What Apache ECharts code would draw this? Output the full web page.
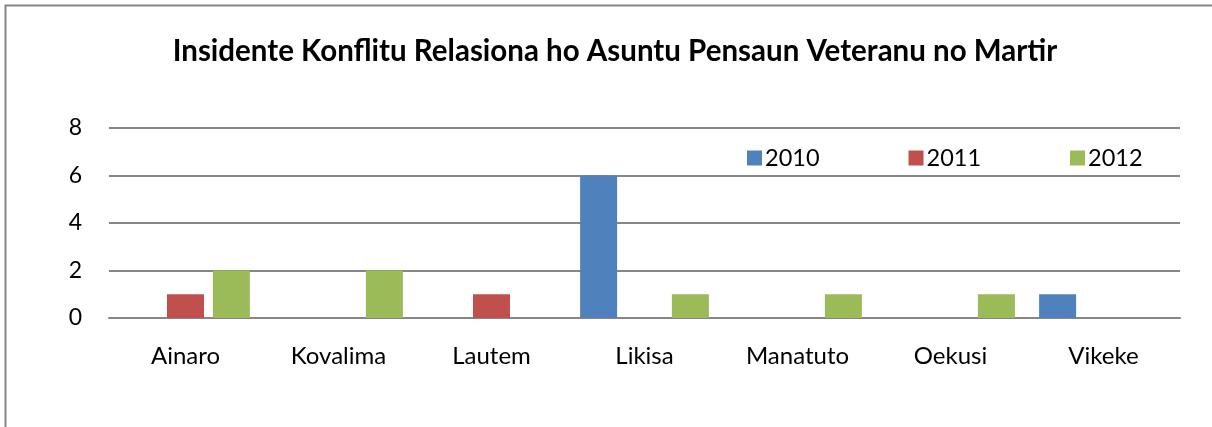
<!DOCTYPE html>
<html>
<head>
<meta charset="utf-8">
<script src="https://cdn.jsdelivr.net/npm/echarts@6/dist/echarts.min.js"></script>
<style>html,body{margin:0;padding:0;background:#fff}#c{width:1212px;height:427px}</style>
</head>
<body>
<div id="c"></div>
<script>
const titleText = 'Insidente Konflitu Relasiona ho Asuntu Pensaun Veteranu no Martir';
const categories = ['Ainaro', 'Kovalima', 'Lautem', 'Likisa', 'Manatuto', 'Oekusi', 'Vikeke'];
const seriesNames = ['2010', '2011', '2012'];
const values2010 = [0, 0, 0, 6, 0, 0, 1];
const values2011 = [1, 0, 1, 0, 0, 0, 0];
const values2012 = [2, 2, 0, 1, 1, 1, 0];
const yTicks = [0, 2, 4, 6, 8];
const colors = ['#4F81BD', '#C0504D', '#9BBB59'];

const font = 'Lato, Carlito, Calibri, sans-serif';
const chart = echarts.init(document.getElementById('c'), null, {renderer: 'canvas'});
const allVals = [values2010, values2011, values2012];
chart.setOption({
  animation: false,
  graphic: [{
    type: 'rect', shape: {x: 5.5, y: 5.5, width: 1260, height: 480},
    style: {fill: null, stroke: '#868686', lineWidth: 2}, silent: true
  }],
  title: {
    text: titleText, left: 610, top: 31, textAlign: 'center',
    textStyle: {fontFamily: font, fontSize: 29.5, fontWeight: 'bold', color: '#000'}
  },
  legend: {
    data: seriesNames, left: 742, top: 141, itemWidth: 15, itemHeight: 15, itemGap: 89,
    icon: 'rect',
    textStyle: {fontFamily: font, fontSize: 23.5, color: '#000', padding: [0, 0, 0, -2]}
  },
  grid: {left: 109, right: 32, top: 128, bottom: 109, containLabel: false},
  xAxis: {
    type: 'category', data: categories,
    axisLine: {show: true, lineStyle: {color: '#868686', width: 2}},
    axisTick: {show: false},
    axisLabel: {fontFamily: font, fontSize: 24, color: '#000', margin: 26}
  },
  yAxis: {
    type: 'value', min: yTicks[0], max: yTicks[yTicks.length - 1], interval: 2,
    axisLine: {show: false}, axisTick: {show: false},
    axisLabel: {fontFamily: font, fontSize: 23, color: '#000', margin: 27},
    splitLine: {lineStyle: {color: '#868686', width: 2}}
  },
  series: seriesNames.map((n, i) => ({
    name: n, type: 'bar', data: allVals[i], barWidth: 37, barGap: '24%',
    itemStyle: {color: colors[i]}
  }))
});
</script>
</body>
</html>
